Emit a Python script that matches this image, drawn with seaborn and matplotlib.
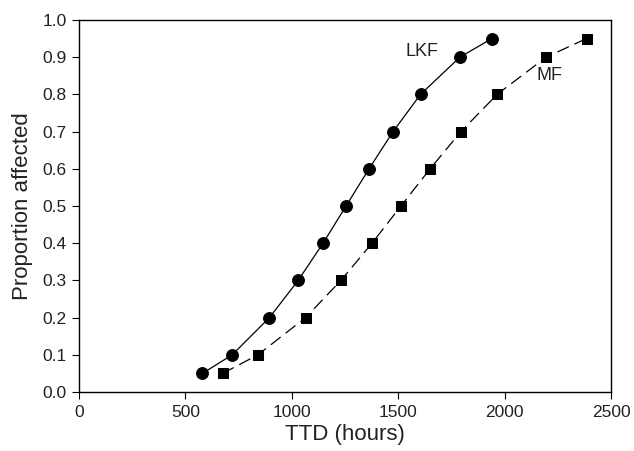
import numpy as np
import pandas as pd
import seaborn as sns
import matplotlib.pyplot as plt

# Proportion affected levels (shared by both curves)
proportion = [0.05, 0.1, 0.2, 0.3, 0.4, 0.5, 0.6, 0.7, 0.8, 0.9, 0.95]

# TTD (hours)
ttd_lkf = [580, 720, 895, 1030, 1147, 1255, 1363, 1476, 1605, 1790, 1940]
ttd_mf = [675, 841, 1065, 1231, 1377, 1513, 1650, 1795, 1965, 2195, 2385]

df_lkf = pd.DataFrame({'TTD': ttd_lkf, 'Proportion': proportion})
df_mf = pd.DataFrame({'TTD': ttd_mf, 'Proportion': proportion})

sns.set_style('ticks')
plt.rcParams['font.family'] = ['Liberation Sans', 'DejaVu Sans']
txt = '#222222'

fig = plt.figure(figsize=(6.34, 4.51), dpi=100)
ax = fig.add_axes([0.1246, 0.1308, 0.8391, 0.8249])

sns.lineplot(data=df_lkf, x='TTD', y='Proportion', ax=ax, color='black',
             linewidth=0.9, marker='o', markersize=8.5, markeredgecolor='black')
sns.lineplot(data=df_mf, x='TTD', y='Proportion', ax=ax, color='black',
             linewidth=0.9, marker='s', markersize=7.5, markeredgecolor='black',
             dashes=False)
ax.lines[-1].set_dashes([10, 5])

ax.text(1612, 0.914, 'LKF', fontsize=13, ha='center', va='center', color=txt)
ax.text(2213, 0.852, 'MF', fontsize=13, ha='center', va='center', color=txt)

ax.set_xlim(0, 2500)
ax.set_ylim(0, 1.0)
ax.set_xticks(np.arange(0, 2501, 500))
ax.set_yticks(np.arange(0, 1.01, 0.1))
ax.set_yticklabels([f'{v:.1f}' for v in np.arange(0, 1.01, 0.1)])
ax.tick_params(labelsize=12.5, length=5, width=0.8, direction='out',
               color='black', labelcolor=txt, pad=4)
ax.set_xlabel('TTD (hours)', fontsize=16, color=txt, labelpad=3)
ax.set_ylabel('Proportion affected', fontsize=16, color=txt, labelpad=7)
for s in ax.spines.values():
    s.set_linewidth(1.0)
    s.set_color('black')

fig.savefig('out.png', dpi=100)
